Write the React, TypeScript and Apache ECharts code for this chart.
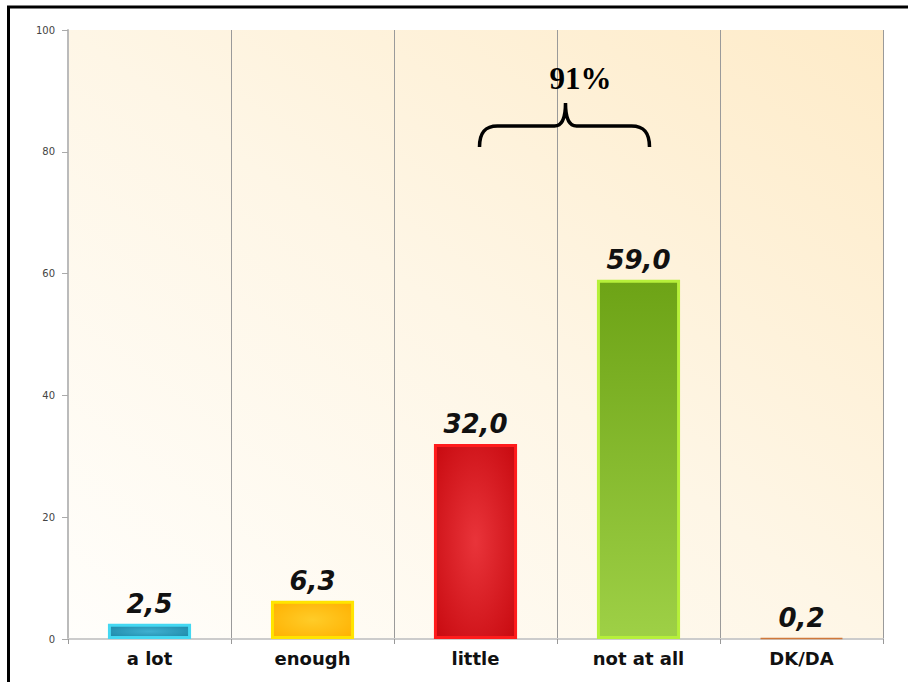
import React, { useEffect, useRef } from "react";
import * as echarts from "echarts";

const categories = ["a lot", "enough", "little", "not at all", "DK/DA"];
const values = [2.5, 6.3, 32.0, 59.0, 0.2];
const yTicks = [0, 20, 40, 60, 80, 100];
const braceLabel = "91%";
const braceFrom = "little";
const braceTo = "not at all";
const braceTipValue = 88;

const fills = [
  new echarts.graphic.RadialGradient(0.5, 0.5, 0.7, [
    { offset: 0, color: "#3fb0d0" },
    { offset: 1, color: "#1c86a6" },
  ]),
  new echarts.graphic.RadialGradient(0.5, 0.5, 0.7, [
    { offset: 0, color: "#ffcc28" },
    { offset: 1, color: "#ffb000" },
  ]),
  new echarts.graphic.RadialGradient(0.5, 0.5, 0.7, [
    { offset: 0, color: "#e9343a" },
    { offset: 1, color: "#c80a10" },
  ]),
  new echarts.graphic.LinearGradient(0, 0, 0, 1, [
    { offset: 0, color: "#6da316" },
    { offset: 1, color: "#9ed046" },
  ]),
  "#d0783a",
];
const borders = ["#44d8f2", "#ffe400", "#ff1c1c", "#b6f03a", "#d0783a"];
const borderWidths = [3, 3, 3, 3, 1.5];

echarts.graphic.registerShape(
  "brace",
  echarts.graphic.extendPath(
    "M0 44 C0 30 5 23 18 23 L75 23 C82 23 86 15 86 0 C86 15 90 23 97 23 L152 23 C165 23 170 30 170 44",
    {}
  )
);

export default function App() {
  const ref = useRef<HTMLDivElement>(null);
  useEffect(() => {
    document.body.style.margin = "0";
    const chart = echarts.init(ref.current!, null, { renderer: "svg" });
    const option: any = {
      animation: false,
      backgroundColor: "#ffffff",
      grid: {
        left: 68,
        right: 25,
        top: 30,
        bottom: 43,
        show: true,
        borderWidth: 0,
        backgroundColor: new echarts.graphic.LinearGradient(0, 1, 1, 0, [
          { offset: 0, color: "#fffefb" },
          { offset: 0.5, color: "#fef6e6" },
          { offset: 1, color: "#feebc8" },
        ]),
      },
      xAxis: {
        type: "category",
        data: categories,
        axisLine: { show: true, lineStyle: { color: "#cccccc", width: 2 } },
        axisTick: { show: true, length: 5, lineStyle: { color: "#999999" } },
        splitLine: { show: true, lineStyle: { color: "#9a9a9a", width: 1 } },
        axisLabel: {
          margin: 10,
          fontFamily: "DejaVu Sans",
          fontWeight: "bold",
          fontSize: 18,
          color: "#111111",
        },
      },
      yAxis: {
        type: "value",
        min: yTicks[0],
        max: yTicks[yTicks.length - 1],
        interval: 20,
        axisLine: { show: true, lineStyle: { color: "#bbbbbb", width: 2 } },
        axisTick: { show: true, length: 6, lineStyle: { color: "#aaaaaa" } },
        splitLine: { show: false },
        axisLabel: {
          margin: 13,
          fontFamily: "DejaVu Sans",
          fontSize: 10,
          color: "#444444",
        },
      },
      series: [
        {
          type: "bar",
          barWidth: "51%",
          data: values.map((v, i) => ({
            value: v,
            itemStyle: {
              color: fills[i],
              borderColor: borders[i],
              borderWidth: borderWidths[i],
            },
          })),
          label: {
            show: true,
            position: "top",
            distance: 7,
            fontFamily: "DejaVu Sans",
            fontWeight: "bold",
            fontStyle: "italic",
            fontSize: 26,
            color: "#111111",
            formatter: (p: any) => Number(p.value).toFixed(1).replace(".", ","),
          },
        },
      ],
    };
    chart.setOption(option);
    const xa = chart.convertToPixel({ xAxisIndex: 0 }, braceFrom) as number;
    const xb = chart.convertToPixel({ xAxisIndex: 0 }, braceTo) as number;
    const tipY = chart.convertToPixel({ yAxisIndex: 0 }, braceTipValue) as number;
    const left = xa + 4;
    const right = xb + 11;
    const tipX = left + ((right - left) * 86) / 170;
    chart.setOption({
      graphic: [
        {
          type: "brace",
          x: left,
          y: tipY,
          scaleX: (right - left) / 170,
          scaleY: 1,
          style: { fill: "none", stroke: "#000000", lineWidth: 3.5 },
          z: 10,
        },
        {
          type: "text",
          x: tipX + 15,
          y: tipY - 25,
          style: {
            text: braceLabel,
            fontFamily: "Liberation Serif",
            fontWeight: "bold",
            fontSize: 31,
            fill: "#000000",
            textAlign: "center",
            textVerticalAlign: "middle",
          },
          z: 10,
        },
        {
          type: "rect",
          shape: { x: 8.5, y: 7, width: 2000, height: 2000 },
          style: { fill: "none", stroke: "#000000", lineWidth: 3 },
          z: 20,
        },
      ],
    });
    return () => chart.dispose();
  }, []);
  return <div ref={ref} style={{ width: 908, height: 682 }} />;
}
